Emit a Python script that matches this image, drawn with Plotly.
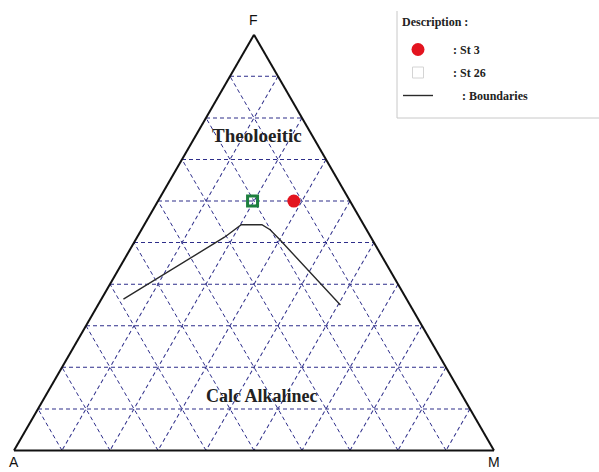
import plotly.graph_objects as go

# AFM ternary diagram, values in percent (F = FeO total, A = Na2O + K2O, M = MgO)
st3_F = [60.0]
st3_A = [11.7]
st3_M = [28.3]

st26_F = [60.0]
st26_A = [20.3]
st26_M = [19.7]

# Tholeiitic / calc-alkaline dividing line
bound_F = [36.4, 51.3, 54.3, 54.3, 53.1, 50.8, 35.0]
bound_A = [59.0, 30.5, 25.5, 21.2, 20.1, 19.3, 14.5]
bound_M = [4.6, 18.2, 20.2, 24.5, 26.8, 29.9, 50.5]

series_names = [": St 3", ": St 26", ": Boundaries"]
vertex_labels = ["F", "A", "M"]
region_labels = ["Theoloeitic", "Calc Alkalinec"]
legend_title = "Description :"

W, H = 599, 472
SERIF = "Liberation Serif"
SANS = "Liberation Sans"
NB = "\u00a0"


def px(x, y):
    """Pixel position -> paper coordinates."""
    return x / W, 1 - y / H


fig = go.Figure()

fig.add_trace(go.Scatterternary(
    a=bound_F, b=bound_A, c=bound_M, mode="lines",
    line=dict(color="#2a2a2a", width=1.4),
    name=NB * 8 + series_names[2], legendrank=3, legendgroup="g3",
))
fig.add_trace(go.Scatterternary(
    a=st26_F, b=st26_A, c=st26_M, mode="markers",
    marker=dict(symbol="square-open", size=10, color="#1d7f3e",
                line=dict(width=3)),
    name=series_names[1], showlegend=False,
))
# legend swatch for St 26
fig.add_trace(go.Scatterternary(
    a=[None], b=[None], c=[None], mode="markers",
    marker=dict(symbol="square-open", size=11, color="#d4d4d4",
                line=dict(width=1)),
    name=NB * 5 + series_names[1], legendrank=2, legendgroup="g2",
))
fig.add_trace(go.Scatterternary(
    a=st3_F, b=st3_A, c=st3_M, mode="markers",
    marker=dict(symbol="circle", size=13, color="#e3141f"),
    name=NB * 5 + series_names[0], legendrank=1, legendgroup="g1",
))

axis_common = dict(
    showticklabels=False, ticks="", dtick=10,
    showgrid=True, gridcolor="#2e2e8a", gridwidth=1,
    griddash="4px,3px",
    showline=True, linecolor="#111111", linewidth=2,
    layer="below traces",
)

vertex_pos = [(253, 20), (14, 462), (494, 462)]
label_font = dict(family=SERIF, size=12, color="#222222", weight="bold")

annotations = []
for txt, (x, y) in zip(vertex_labels, vertex_pos):
    xp, yp = px(x, y)
    annotations.append(dict(text=txt, x=xp, y=yp, xref="paper", yref="paper",
                            xanchor="center", yanchor="middle", showarrow=False,
                            font=dict(family=SANS, size=14, color="#111111")))
for txt, (x, y), size in zip(region_labels, [(257, 135), (262, 396)], [19, 18]):
    xp, yp = px(x, y)
    annotations.append(dict(text=txt, x=xp, y=yp, xref="paper", yref="paper",
                            xanchor="center", yanchor="middle", showarrow=False,
                            font=dict(family=SERIF, size=size, color="#222222",
                                      weight="bold")))
xp, yp = px(400, 22)
annotations.append(dict(text=legend_title, x=xp, y=yp, xref="paper", yref="paper",
                        xanchor="left", yanchor="middle", showarrow=False,
                        font=label_font))

lx, ly = px(398, 35)
bx0, by0 = px(397, 11)
bx1, by1 = px(599, 118)

fig.update_layout(
    width=W, height=H,
    margin=dict(l=0, r=0, t=0, b=0),
    paper_bgcolor="white",
    ternary=dict(
        sum=100,
        bgcolor="white",
        domain=dict(x=[14 / W, 494 / W], y=[0.044, 0.928]),
        aaxis=dict(title=dict(text=""), **axis_common),
        baxis=dict(title=dict(text=""), **axis_common),
        caxis=dict(title=dict(text=""), **axis_common),
    ),
    legend=dict(
        x=lx, y=ly, xanchor="left", yanchor="top",
        bgcolor="rgba(0,0,0,0)", borderwidth=0,
        font=label_font,
        tracegroupgap=4, itemwidth=30,
    ),
    shapes=[
        dict(type="line", xref="paper", yref="paper",
             x0=bx0, x1=bx0, y0=by0, y1=by1,
             line=dict(color="#c8c8c8", width=1)),
        dict(type="line", xref="paper", yref="paper",
             x0=bx0, x1=1, y0=by1, y1=by1,
             line=dict(color="#c8c8c8", width=1)),
    ],
    annotations=annotations,
)

fig.write_html("out.html")
